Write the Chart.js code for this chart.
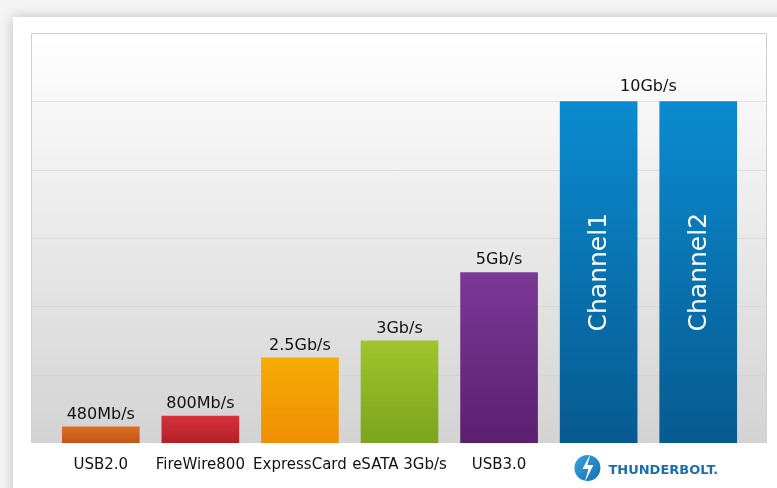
<!DOCTYPE html>
<html>
<head>
<meta charset="utf-8">
<script src="https://cdn.jsdelivr.net/npm/chart.js@4/dist/chart.umd.min.js"></script>
<style>
  html, body { margin: 0; padding: 0; background: #ffffff; }
  #wrap { width: 777px; height: 488px; position: relative; }
</style>
</head>
<body>
<div id="wrap"><canvas id="c" width="777" height="488"></canvas></div>
<script>
// ---- data ----
const categories = ["USB2.0", "FireWire800", "ExpressCard", "eSATA 3Gb/s", "USB3.0", "Channel1", "Channel2"];
const speedsGbps = [0.48, 0.8, 2.5, 3, 5, 10, 10];
const valueLabels = ["480Mb/s", "800Mb/s", "2.5Gb/s", "3Gb/s", "5Gb/s", "10Gb/s", "10Gb/s"];
const groupLabel = "THUNDERBOLT.";
const yTicks = [0, 2, 4, 6, 8, 10, 12];

// colours (top, bottom) per bar
const barTop = ["#dc6f22", "#d6323b", "#f6ab05", "#9fc42c", "#7b3896", "#0b8bd0", "#0b8bd0"];
const barBottom = ["#c65419", "#b41f27", "#ef8e02", "#7ca41d", "#5b1f6f", "#075a90", "#075a90"];

const FONT = "'DejaVu Sans', 'Liberation Sans', sans-serif";

const bgPlugin = {
  id: 'bgPlugin',
  beforeDraw(chart) {
    const ctx = chart.ctx;
    const y = chart.scales.y;
    ctx.save();
    // page
    ctx.fillStyle = '#f4f4f4';
    ctx.fillRect(0, 0, chart.width, chart.height);
    // card with shadow
    ctx.shadowColor = 'rgba(0,0,0,0.22)';
    ctx.shadowBlur = 12;
    ctx.fillStyle = '#ffffff';
    ctx.fillRect(13, 17, chart.width + 20, chart.height + 20);
    ctx.shadowBlur = 0;
    ctx.shadowColor = 'transparent';
    // plot box
    const L = 31, R = 766, T = y.getPixelForValue(12), B = y.getPixelForValue(0);
    const g = ctx.createLinearGradient(0, T, 0, B);
    g.addColorStop(0, '#ffffff');
    g.addColorStop(1, '#d3d3d3');
    ctx.fillStyle = g;
    ctx.fillRect(L, T, R - L, B - T);
    // grid lines
    ctx.strokeStyle = 'rgba(205,205,205,0.55)';
    ctx.lineWidth = 1;
    yTicks.forEach(v => {
      if (v === 0 || v === 12) return;
      const py = Math.round(y.getPixelForValue(v)) + 0.5;
      ctx.beginPath(); ctx.moveTo(L, py); ctx.lineTo(R, py); ctx.stroke();
    });
    // border
    ctx.strokeStyle = '#cfcfcf';
    ctx.beginPath();
    ctx.moveTo(L + 0.5, B); ctx.lineTo(L + 0.5, T + 0.5); ctx.lineTo(R + 0.5, T + 0.5); ctx.lineTo(R + 0.5, B);
    ctx.stroke();
    ctx.restore();
  },
  afterDatasetsDraw(chart) {
    const ctx = chart.ctx;
    const meta = chart.getDatasetMeta(0);
    ctx.save();
    ctx.fillStyle = '#111111';
    ctx.font = '16px ' + FONT;
    ctx.textAlign = 'center';
    ctx.textBaseline = 'alphabetic';
    for (let i = 0; i < 5; i++) {
      const bar = meta.data[i];
      ctx.fillText(valueLabels[i], bar.x, bar.y - 8);
    }
    // shared label for the two channels
    const b5 = meta.data[5], b6 = meta.data[6];
    ctx.fillText(valueLabels[5], (b5.x + b6.x) / 2, b5.y - 10);
    // channel names inside bars
    ctx.fillStyle = '#ffffff';
    ctx.font = '25px ' + FONT;
    ctx.textBaseline = 'middle';
    [5, 6].forEach(i => {
      const bar = meta.data[i];
      ctx.save();
      ctx.translate(bar.x + 1, chart.scales.y.getPixelForValue(5));
      ctx.rotate(-Math.PI / 2);
      ctx.fillText(categories[i], 0, 0);
      ctx.restore();
    });
    // Thunderbolt group label under the two channels
    const cx = (b5.x + b6.x) / 2;
    const ty = 470;
    const ix = cx - 61, iy = ty - 2, r = 13;
    const ig = ctx.createLinearGradient(ix - r, iy - r, ix + r, iy + r);
    ig.addColorStop(0, '#3aa2dc');
    ig.addColorStop(1, '#1271b4');
    ctx.fillStyle = ig;
    ctx.beginPath(); ctx.arc(ix, iy, r, 0, Math.PI * 2); ctx.fill();
    ctx.fillStyle = '#ffffff';
    ctx.beginPath();
    ctx.moveTo(ix + 3, iy - 14);
    ctx.lineTo(ix - 5, iy + 1);
    ctx.lineTo(ix + 1, iy + 1);
    ctx.lineTo(ix - 3, iy + 15);
    ctx.lineTo(ix + 6, iy - 3);
    ctx.lineTo(ix, iy - 3);
    ctx.closePath();
    ctx.fill();
    ctx.fillStyle = '#1b6fae';
    ctx.font = 'bold 13px ' + FONT;
    ctx.textAlign = 'left';
    ctx.textBaseline = 'middle';
    ctx.fillText(groupLabel, cx - 40, ty + 1);
    ctx.restore();
  }
};

function barGradient(context) {
  const chart = context.chart;
  const i = context.dataIndex;
  if (!chart.chartArea) return barTop[i];
  const ys = chart.scales.y;
  const top = ys.getPixelForValue(speedsGbps[i]);
  const bot = ys.getPixelForValue(0);
  const g = chart.ctx.createLinearGradient(0, top, 0, bot);
  g.addColorStop(0, barTop[i]);
  g.addColorStop(1, barBottom[i]);
  return g;
}

new Chart(document.getElementById('c'), {
  type: 'bar',
  data: {
    labels: categories,
    datasets: [{
      data: speedsGbps,
      backgroundColor: barGradient,
      borderWidth: 0,
      barPercentage: 0.78,
      categoryPercentage: 1.0
    }]
  },
  options: {
    responsive: false,
    animation: false,
    devicePixelRatio: 1,
    layout: { padding: { left: 51, right: 29, top: 33, bottom: 0 } },
    plugins: { legend: { display: false }, tooltip: { enabled: false } },
    scales: {
      y: {
        display: false,
        min: 0, max: 12,
        ticks: { stepSize: 2 }
      },
      x: {
        grid: { display: false, drawTicks: false },
        border: { display: false },
        afterFit(scale) { scale.height = 45; },
        ticks: {
          padding: 13,
          color: '#111111',
          font: { family: FONT, size: 15 },
          maxRotation: 0,
          autoSkip: false,
          callback: function (value, index) { return index >= 5 ? '' : categories[index]; }
        }
      }
    }
  },
  plugins: [bgPlugin]
});
</script>
</body>
</html>
